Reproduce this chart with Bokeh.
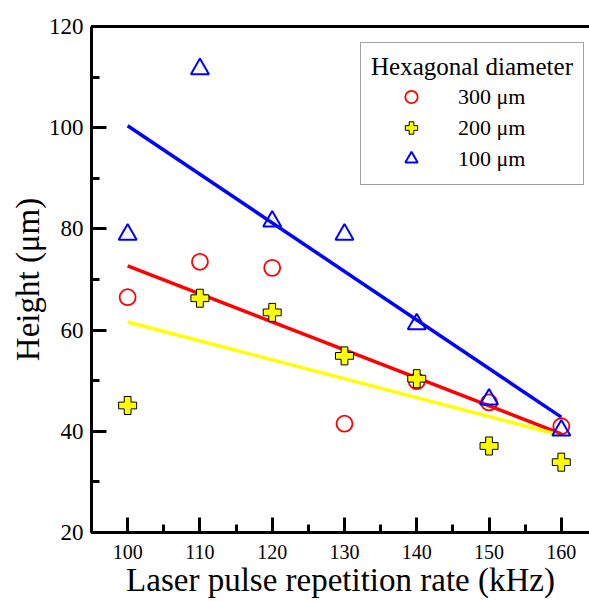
from bokeh.plotting import figure
from bokeh.models import (LinearAxis, SingleIntervalTicker, FixedTicker,
                          Legend, LegendItem, Range1d)
from bokeh.embed import file_html
from bokeh.resources import INLINE

# ---- data ----
rate = [100, 110, 120, 130, 140, 150, 160]
h300 = [66.5, 73.5, 72.3, 41.5, 49.9, 45.7, 41.0]
h200 = [45.1, 66.3, 63.5, 54.9, 50.4, 37.1, 33.9]
h100 = [78.9, 111.6, 81.5, 78.9, 61.2, 46.3, 40.2]
fit_x = [100, 160]
fit300 = [72.7, 39.5]
fit200 = [61.6, 39.2]
fit100 = [100.4, 42.8]
legend_title = "Hexagonal diameter"
series_labels = ["300 \u03bcm", "200 \u03bcm", "100 \u03bcm"]
x_label = "Laser pulse repetition rate (kHz)"
y_label = "Height (\u03bcm)"

FONT = "Liberation Serif"

p = figure(width=589, height=601, output_backend="svg", toolbar_location=None,
           x_range=Range1d(95, 163.9), y_range=Range1d(20, 120),
           min_border_left=91, min_border_right=0, min_border_top=26,
           min_border_bottom=69)
p.outline_line_color = None
p.xgrid.visible = False
p.ygrid.visible = False
p.background_fill_color = "white"
p.border_fill_color = "white"

for ax, interval, fs, standoff in ((p.xaxis[0], 10, "20px", 12), (p.yaxis[0], 20, "23px", 8)):
    ax.ticker = SingleIntervalTicker(interval=interval, num_minor_ticks=2)
    ax.axis_line_width = 3
    ax.major_tick_line_width = 3
    ax.minor_tick_line_width = 3
    ax.major_tick_in = 15
    ax.major_tick_out = 0
    ax.minor_tick_in = 8
    ax.minor_tick_out = 0
    ax.major_label_text_font = FONT
    ax.major_label_text_font_size = fs
    ax.major_label_text_color = "black"
    ax.major_label_standoff = standoff
    ax.axis_label_text_font = FONT
    ax.axis_label_text_font_size = "33px"
    ax.axis_label_text_font_style = "normal"
    ax.axis_label_text_color = "black"
    ax.axis_label_standoff = 0

p.xaxis[0].axis_label = x_label
p.yaxis[0].axis_label = y_label

top = LinearAxis(ticker=FixedTicker(ticks=[]), axis_line_width=3,
                 major_label_text_font_size="0px", major_tick_in=0, major_tick_out=0,
                 minor_tick_in=0, minor_tick_out=0)
p.add_layout(top, "above")

# fit lines
p.line(fit_x, fit100, line_color="#0000ff", line_width=3.5)
p.line(fit_x, fit300, line_color="#ff0000", line_width=3.5)
p.line(fit_x, fit200, line_color="#ffff00", line_width=3.5)

r300 = p.scatter(rate, h300, marker="circle", size=16, fill_color=None,
                 line_color="#ff0000", line_width=1.8)
r200 = p.scatter(rate, h200, marker="plus", size=18, fill_color="#ffff00",
                 line_color="black", line_width=1)
r100 = p.scatter(rate, h100, marker="triangle", size=18, fill_color=None,
                 line_color="#0000ff", line_width=2)

legend = Legend(items=[LegendItem(label=series_labels[0], renderers=[r300]),
                       LegendItem(label=series_labels[1], renderers=[r200]),
                       LegendItem(label=series_labels[2], renderers=[r100])],
                title=legend_title, location=(269, 347))
legend.title_text_font = FONT
legend.title_text_font_size = "25px"
legend.title_text_font_style = "normal"
legend.title_text_color = "black"
legend.title_standoff = 0
legend.label_text_font = FONT
legend.label_text_font_size = "22px"
legend.label_text_color = "black"
legend.glyph_width = 80
legend.glyph_height = 31
legend.label_height = 22
legend.label_standoff = 7
legend.spacing = 0
legend.padding = 10
legend.margin = 0
legend.border_line_color = "#444444"
legend.border_line_width = 1.5
legend.background_fill_alpha = 1
p.add_layout(legend, "center")

open("out.html", "w").write(file_html(p, INLINE))
